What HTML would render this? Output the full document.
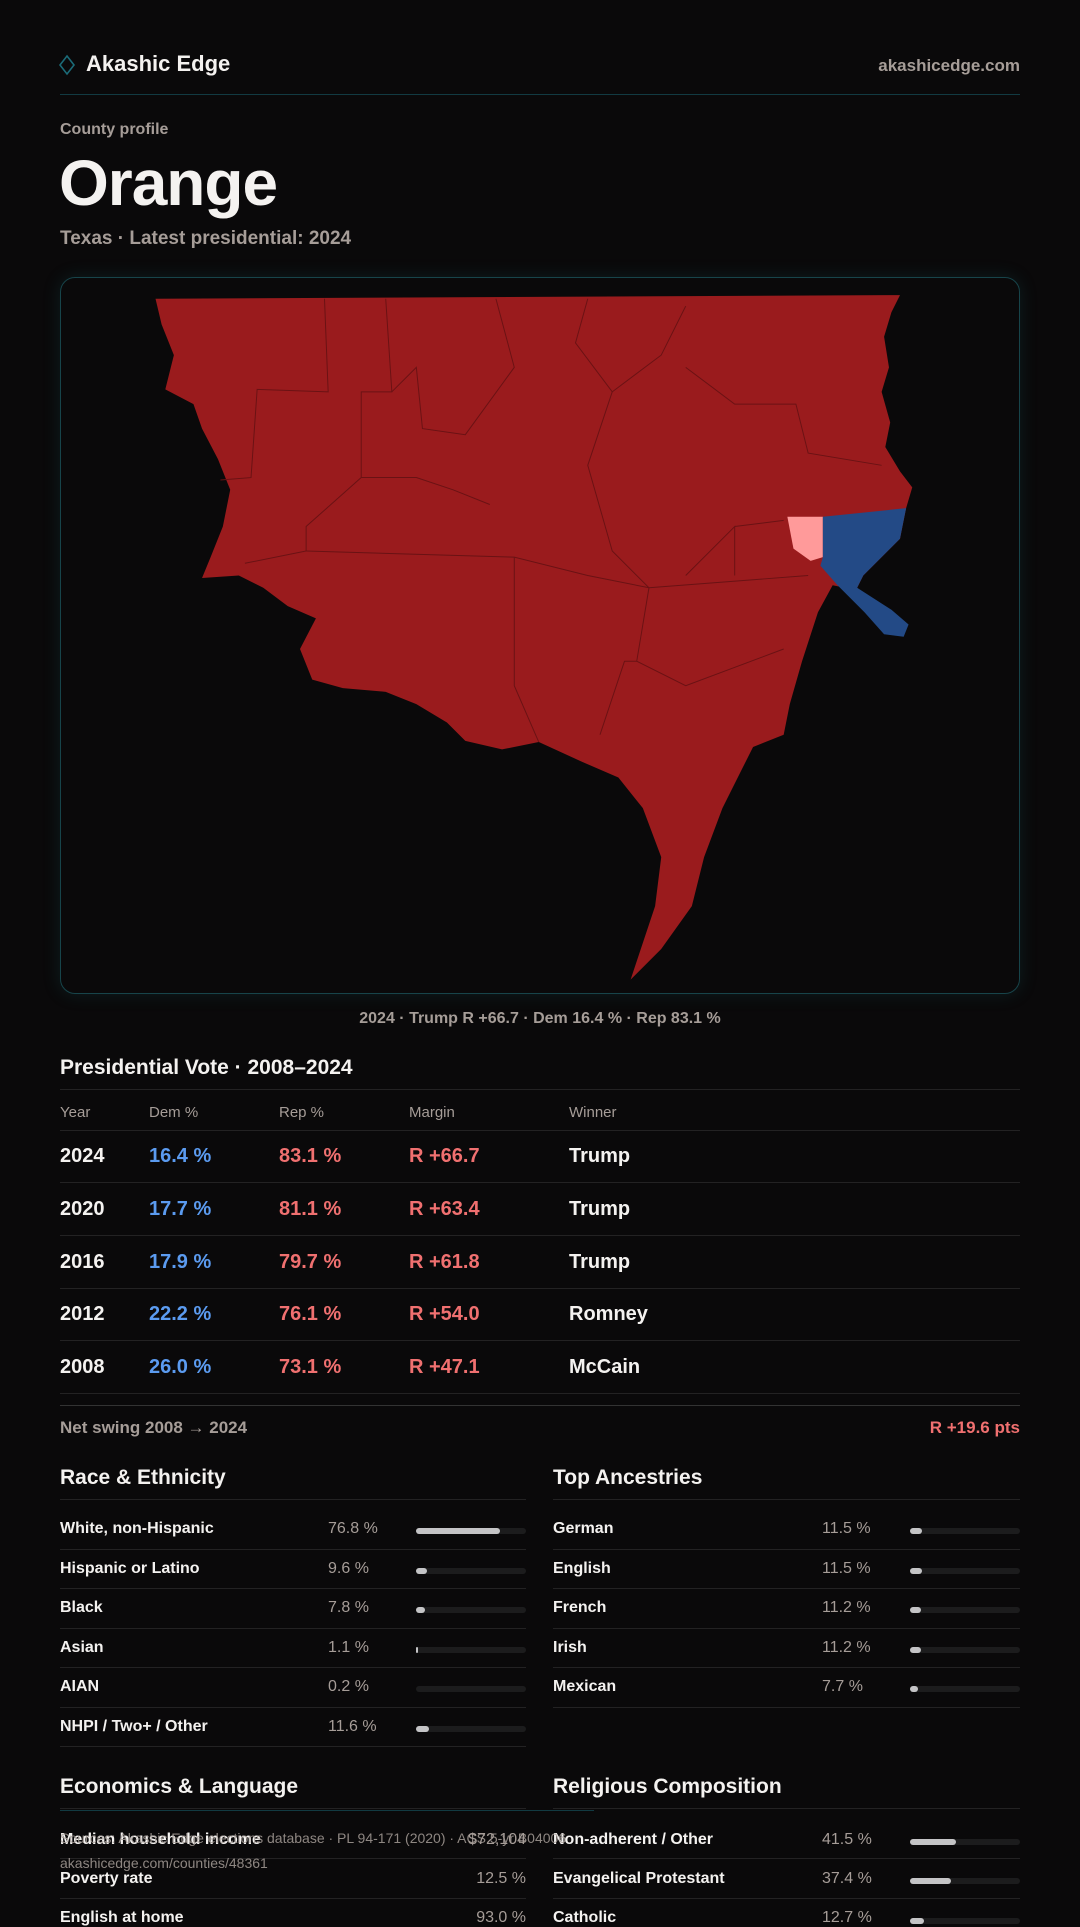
<!DOCTYPE html>
<html><head><meta charset="utf-8"><style>
*{margin:0;padding:0;box-sizing:border-box}
body{width:1080px;height:1920px;background:#0a090a;font-family:"Liberation Sans",sans-serif;color:#f4f2f0;position:relative;overflow:hidden}
.a{position:absolute;white-space:nowrap}
.mut{color:#a69d98}
.line{position:absolute;height:1px;background:#232223}
.b{font-weight:bold}
.bar{position:absolute;height:6px;border-radius:3px;background:#1c1c1d}
.bar i{display:block;height:6px;border-radius:3px;background:#c4c4c6}
#w{position:absolute;left:0;top:4px;width:1080px;height:1920px}
</style></head><body>
<svg class="a" style="left:58px;top:54px" width="18" height="22" viewBox="0 0 18 22"><path d="M9 2 L16 11 L9 20 L2 11 Z" fill="none" stroke="#1b6b78" stroke-width="1.6"/></svg>
<div class="a b" style="left:86px;top:51px;font-size:22px">Akashic Edge</div>
<div class="a b mut" style="right:60px;top:56px;font-size:17px">akashicedge.com</div>
<div class="line" style="left:60px;width:960px;top:94px;background:#123a42"></div>
<div class="a b mut" style="left:60px;top:121px;font-size:16px">County profile</div>
<div class="a b" style="left:59px;top:146px;font-size:64px;letter-spacing:-1px">Orange</div>
<div class="a b mut" style="left:60px;top:228px;font-size:19px">Texas · Latest presidential: 2024</div>
<div class="a" style="left:60px;top:277px;width:960px;height:717px;border:1px solid #17444a;border-radius:15px;box-shadow:0 0 18px rgba(30,120,130,0.18)"></div>
<svg class="a" style="left:0;top:0" width="1080" height="1920" viewBox="0 0 882 1568">
<path fill="#9a1b1d" d="M127,244 L735,241 L728,255 L722,275 L726,300 L720,320 L727,345 L723,365 L735,385 L745,398 L740,415 L735,440 L720,455 L705,470 L700,480 L712,505 L690,480 L680,478 L668,500 L655,540 L645,575 L640,600 L615,610 L605,630 L590,660 L575,700 L565,740 L540,775 L515,800 L535,740 L540,700 L525,660 L505,635 L475,622 L440,606 L410,612 L380,605 L365,590 L340,575 L315,565 L280,562 L255,555 L245,530 L258,505 L235,495 L215,480 L195,470 L165,472 L172,455 L182,430 L188,400 L178,375 L165,350 L158,330 L135,318 L142,290 L132,265 Z"/>
<path fill="#ff9a9a" d="M643,422 L672,422 L672,455 L662,458 L648,448 Z"/>
<path fill="#234a86" d="M672,422 L740,415 L735,440 L720,455 L705,470 L700,480 L728,498 L742,510 L738,520 L722,518 L706,500 L684,478 L670,462 L672,455 Z"/>
<g fill="none" stroke="#6a1214" stroke-width="0.8">
<path d="M265,244 L268,320 L210,318 L205,390 L180,392"/>
<path d="M315,244 L320,320 L295,320 L295,390 L250,430 L250,450 L200,460"/>
<path d="M405,244 L420,300 L380,355 L345,350 L340,300 L320,320"/>
<path d="M480,244 L470,280 L500,320 L540,290 L560,250"/>
<path d="M560,300 L600,330 L650,330 L660,370 L720,380"/>
<path d="M500,320 L480,380 L500,450 L530,480 L520,540 L560,560 L640,530"/>
<path d="M250,450 L420,455 L480,470 L530,480 L660,470"/>
<path d="M420,455 L420,560 L440,606"/>
<path d="M600,430 L640,425 M560,470 L600,430 L600,470"/>
<path d="M490,600 L510,540 L520,540"/>
<path d="M295,390 L340,390 L370,400 L400,412"/>
</g>
</svg>
<div id="w">
<div class="a b mut" style="left:0;width:1080px;text-align:center;top:1006px;font-size:16px">2024 · Trump R +66.7 · Dem 16.4 % · Rep 83.1 %</div>
<div class="a b" style="left:60px;top:1052px;font-size:21px">Presidential Vote · 2008–2024</div>
<div class="line" style="left:60px;width:960px;top:1085px"></div>
<div class="a mut" style="left:60px;top:1100px;font-size:15px">Year</div>
<div class="a mut" style="left:149px;top:1100px;font-size:15px">Dem %</div>
<div class="a mut" style="left:279px;top:1100px;font-size:15px">Rep %</div>
<div class="a mut" style="left:409px;top:1100px;font-size:15px">Margin</div>
<div class="a mut" style="left:569px;top:1100px;font-size:15px">Winner</div>
<div class="line" style="left:60px;width:960px;top:1126px"></div>

<div class="a b" style="left:60px;top:1141px;font-size:20px">2024</div><div class="a b" style="left:149px;top:1141px;font-size:20px;color:#5b9bf0">16.4 %</div><div class="a b" style="left:279px;top:1141px;font-size:20px;color:#f07070">83.1 %</div><div class="a b" style="left:409px;top:1141px;font-size:20px;color:#f07070">R +66.7</div><div class="a b" style="left:569px;top:1141px;font-size:20px">Trump</div>
<div class="line" style="left:60px;width:960px;top:1178px"></div>
<div class="a b" style="left:60px;top:1194px;font-size:20px">2020</div><div class="a b" style="left:149px;top:1194px;font-size:20px;color:#5b9bf0">17.7 %</div><div class="a b" style="left:279px;top:1194px;font-size:20px;color:#f07070">81.1 %</div><div class="a b" style="left:409px;top:1194px;font-size:20px;color:#f07070">R +63.4</div><div class="a b" style="left:569px;top:1194px;font-size:20px">Trump</div>
<div class="line" style="left:60px;width:960px;top:1231px"></div>
<div class="a b" style="left:60px;top:1247px;font-size:20px">2016</div><div class="a b" style="left:149px;top:1247px;font-size:20px;color:#5b9bf0">17.9 %</div><div class="a b" style="left:279px;top:1247px;font-size:20px;color:#f07070">79.7 %</div><div class="a b" style="left:409px;top:1247px;font-size:20px;color:#f07070">R +61.8</div><div class="a b" style="left:569px;top:1247px;font-size:20px">Trump</div>
<div class="line" style="left:60px;width:960px;top:1284px"></div>
<div class="a b" style="left:60px;top:1299px;font-size:20px">2012</div><div class="a b" style="left:149px;top:1299px;font-size:20px;color:#5b9bf0">22.2 %</div><div class="a b" style="left:279px;top:1299px;font-size:20px;color:#f07070">76.1 %</div><div class="a b" style="left:409px;top:1299px;font-size:20px;color:#f07070">R +54.0</div><div class="a b" style="left:569px;top:1299px;font-size:20px">Romney</div>
<div class="line" style="left:60px;width:960px;top:1336px"></div>
<div class="a b" style="left:60px;top:1352px;font-size:20px">2008</div><div class="a b" style="left:149px;top:1352px;font-size:20px;color:#5b9bf0">26.0 %</div><div class="a b" style="left:279px;top:1352px;font-size:20px;color:#f07070">73.1 %</div><div class="a b" style="left:409px;top:1352px;font-size:20px;color:#f07070">R +47.1</div><div class="a b" style="left:569px;top:1352px;font-size:20px">McCain</div>
<div class="line" style="left:60px;width:960px;top:1389px"></div>
<div class="line" style="left:60px;width:960px;top:1401px;background:#333"></div>
<div class="a b mut" style="left:60px;top:1414px;font-size:17px">Net swing 2008 → 2024</div>
<div class="a b" style="right:60px;top:1414px;font-size:17px;color:#f07070">R +19.6 pts</div>

<div class="a b" style="left:60px;top:1462px;font-size:21px">Race &amp; Ethnicity</div>
<div class="a b" style="left:553px;top:1462px;font-size:21px">Top Ancestries</div>
<div class="line" style="left:60px;width:466px;top:1495px"></div>
<div class="line" style="left:553px;width:467px;top:1495px"></div>

<div style="position:absolute;left:60px;top:1506px;width:466px">
<div style="position:relative;height:39.5px;border-bottom:1px solid #232223"><span class="a b" style="left:0;top:10px;font-size:16px">White, non-Hispanic</span><span class="a mut" style="left:268px;top:10px;font-size:16px">76.8 %</span><div class="bar" style="left:356px;width:110px;top:18px"><i style="width:84px"></i></div></div>
<div style="position:relative;height:39.5px;border-bottom:1px solid #232223"><span class="a b" style="left:0;top:10px;font-size:16px">Hispanic or Latino</span><span class="a mut" style="left:268px;top:10px;font-size:16px">9.6 %</span><div class="bar" style="left:356px;width:110px;top:18px"><i style="width:11px"></i></div></div>
<div style="position:relative;height:39.5px;border-bottom:1px solid #232223"><span class="a b" style="left:0;top:10px;font-size:16px">Black</span><span class="a mut" style="left:268px;top:10px;font-size:16px">7.8 %</span><div class="bar" style="left:356px;width:110px;top:18px"><i style="width:9px"></i></div></div>
<div style="position:relative;height:39.5px;border-bottom:1px solid #232223"><span class="a b" style="left:0;top:10px;font-size:16px">Asian</span><span class="a mut" style="left:268px;top:10px;font-size:16px">1.1 %</span><div class="bar" style="left:356px;width:110px;top:18px"><i style="width:1.5px"></i></div></div>
<div style="position:relative;height:39.5px;border-bottom:1px solid #232223"><span class="a b" style="left:0;top:10px;font-size:16px">AIAN</span><span class="a mut" style="left:268px;top:10px;font-size:16px">0.2 %</span><div class="bar" style="left:356px;width:110px;top:18px"></div></div>
<div style="position:relative;height:39.5px;border-bottom:1px solid #232223"><span class="a b" style="left:0;top:10px;font-size:16px">NHPI / Two+ / Other</span><span class="a mut" style="left:268px;top:10px;font-size:16px">11.6 %</span><div class="bar" style="left:356px;width:110px;top:18px"><i style="width:13px"></i></div></div>
</div>
<div style="position:absolute;left:553px;top:1506px;width:467px">
<div style="position:relative;height:39.5px;border-bottom:1px solid #232223"><span class="a b" style="left:0;top:10px;font-size:16px">German</span><span class="a mut" style="left:269px;top:10px;font-size:16px">11.5 %</span><div class="bar" style="left:357px;width:110px;top:18px"><i style="width:12px"></i></div></div>
<div style="position:relative;height:39.5px;border-bottom:1px solid #232223"><span class="a b" style="left:0;top:10px;font-size:16px">English</span><span class="a mut" style="left:269px;top:10px;font-size:16px">11.5 %</span><div class="bar" style="left:357px;width:110px;top:18px"><i style="width:12px"></i></div></div>
<div style="position:relative;height:39.5px;border-bottom:1px solid #232223"><span class="a b" style="left:0;top:10px;font-size:16px">French</span><span class="a mut" style="left:269px;top:10px;font-size:16px">11.2 %</span><div class="bar" style="left:357px;width:110px;top:18px"><i style="width:11px"></i></div></div>
<div style="position:relative;height:39.5px;border-bottom:1px solid #232223"><span class="a b" style="left:0;top:10px;font-size:16px">Irish</span><span class="a mut" style="left:269px;top:10px;font-size:16px">11.2 %</span><div class="bar" style="left:357px;width:110px;top:18px"><i style="width:11px"></i></div></div>
<div style="position:relative;height:39.5px;border-bottom:1px solid #232223"><span class="a b" style="left:0;top:10px;font-size:16px">Mexican</span><span class="a mut" style="left:269px;top:10px;font-size:16px">7.7 %</span><div class="bar" style="left:357px;width:110px;top:18px"><i style="width:8px"></i></div></div>
</div>

<div class="a b" style="left:60px;top:1771px;font-size:21px">Economics &amp; Language</div>
<div class="a b" style="left:553px;top:1771px;font-size:21px">Religious Composition</div>
<div class="line" style="left:60px;width:466px;top:1804px"></div>
<div class="line" style="left:553px;width:467px;top:1804px"></div>

<div class="a b" style="left:60px;top:1827px;font-size:16px">Median household income</div><div class="a mut" style="right:554px;top:1827px;font-size:16px">$72,104</div>
<div class="line" style="left:60px;width:466px;top:1854px"></div>
<div class="a b" style="left:60px;top:1866px;font-size:16px">Poverty rate</div><div class="a mut" style="right:554px;top:1866px;font-size:16px">12.5 %</div>
<div class="line" style="left:60px;width:466px;top:1894px"></div>
<div class="a b" style="left:60px;top:1905px;font-size:16px">English at home</div><div class="a mut" style="right:554px;top:1905px;font-size:16px">93.0 %</div>

<div class="a b" style="left:553px;top:1827px;font-size:16px">Non-adherent / Other</div><span class="a mut" style="left:822px;top:1827px;font-size:16px">41.5 %</span><div class="bar" style="left:910px;width:110px;top:1835px"><i style="width:46px"></i></div>
<div class="line" style="left:553px;width:467px;top:1854px"></div>
<div class="a b" style="left:553px;top:1866px;font-size:16px">Evangelical Protestant</div><span class="a mut" style="left:822px;top:1866px;font-size:16px">37.4 %</span><div class="bar" style="left:910px;width:110px;top:1874px"><i style="width:41px"></i></div>
<div class="line" style="left:553px;width:467px;top:1894px"></div>
<div class="a b" style="left:553px;top:1905px;font-size:16px">Catholic</div><span class="a mut" style="left:822px;top:1905px;font-size:16px">12.7 %</span><div class="bar" style="left:910px;width:110px;top:1914px"><i style="width:14px"></i></div>

<div class="line" style="left:60px;width:534px;top:1806px;background:#123a42"></div>
<div class="a mut" style="left:60px;top:1826px;font-size:14px;opacity:.85">Sources: Akashic Edge elections database · PL 94-171 (2020) · ACS 5-yr B04006</div>
<div class="a mut" style="left:60px;top:1851px;font-size:14px;opacity:.85">akashicedge.com/counties/48361</div>
</div>
</body></html>
